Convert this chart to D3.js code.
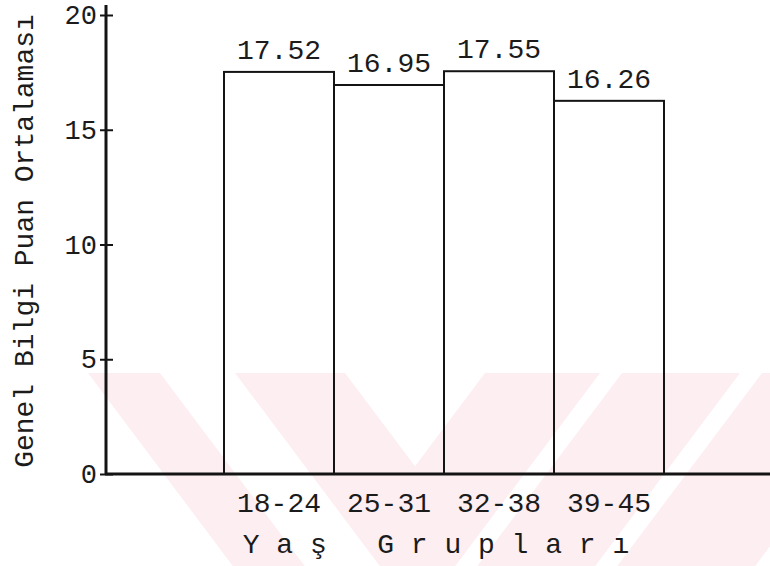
<!DOCTYPE html>
<html>
<head>
<meta charset="utf-8">
<script src="https://cdn.jsdelivr.net/npm/d3@7"></script>
<style>
  body { margin: 0; background: #fff; }
  text { font-family: "Liberation Mono", "Courier New", monospace; fill: #1b1b1b; }
</style>
</head>
<body>
<svg id="chart" width="770" height="566"></svg>
<script>
// Mean general-knowledge score per age group
const ageGroups = ["18-24", "25-31", "32-38", "39-45"];
const meanScores = [17.52, 16.95, 17.55, 16.26];
const yTicks = [0, 5, 10, 15, 20];
const yTitle = "Genel Bilgi Puan Ortalaması";
const xTitle = "Y a ş   G r u p l a r ı";

const W = 770, H = 566;
const svg = d3.select("#chart");

const y = d3.scaleLinear().domain([0, 20]).range([474, 15]);
const x = d3.scaleBand().domain(ageGroups).range([224, 664]).padding(0);

// ---- pale chevron watermark behind the chart ----
const wmTop = 373, slope = 0.75;
svg.append("clipPath").attr("id", "wm-clip")
  .append("rect").attr("x", 0).attr("y", wmTop).attr("width", W).attr("height", H - wmTop);
const wm = svg.append("g").attr("clip-path", "url(#wm-clip)");
const P = (x0, t) => [x0 + slope * t, wmTop + t];
const Q = (x0, t) => [x0 - slope * t, wmTop + t];
// a V shape from the top x-extents of its left and right arms
function chevron(l0, l1, r0, r1) {
  const tIn = (r0 - l1) / (2 * slope), tOut = (r1 - l0) / (2 * slope);
  return [[l0, wmTop], [l1, wmTop], P(l1, tIn), [r0, wmTop], [r1, wmTop], P(l0, tOut)];
}
const shapes = [
  chevron(88, 160, 622, 740),
  chevron(235, 345, 485, 600),
  [[762, wmTop], [900, wmTop], Q(900, 300), Q(762, 300)]
];
wm.selectAll("path").data(shapes).join("path")
  .attr("d", d => "M" + d.map(p => p.join(",")).join("L") + "Z")
  .attr("fill", "#fdeef1");

// ---- bars ----
svg.append("g").selectAll("rect").data(meanScores).join("rect")
  .attr("x", (d, i) => x(ageGroups[i]))
  .attr("y", d => y(d))
  .attr("width", x.bandwidth())
  .attr("height", d => y(0) - y(d))
  .attr("fill", "none")
  .attr("stroke", "#141414")
  .attr("stroke-width", 2);

// value labels
svg.append("g").selectAll("text").data(meanScores).join("text")
  .attr("x", (d, i) => x(ageGroups[i]) + x.bandwidth() / 2)
  .attr("y", d => y(d) - 13)
  .attr("text-anchor", "middle")
  .style("font-size", "28px")
  .text(d => d.toFixed(2));

// ---- y axis ----
const yAxis = svg.append("g").attr("transform", "translate(106,0)")
  .call(d3.axisLeft(y).tickValues(yTicks).tickSize(6).tickPadding(3).tickSizeOuter(0));
yAxis.select(".domain").remove();
yAxis.selectAll(".tick line").attr("x1", 7).attr("stroke", "#141414").attr("stroke-width", 2);
yAxis.selectAll(".tick text").style("font-size", "27px").attr("font-family", null);
yAxis.append("line")
  .attr("x1", 0).attr("x2", 0)
  .attr("y1", y(0)).attr("y2", y(20) - 10)
  .attr("stroke", "#141414").attr("stroke-width", 3);

// ---- x axis ----
const xAxis = svg.append("g").attr("transform", `translate(0,${y(0)})`)
  .call(d3.axisBottom(x).tickSize(0).tickPadding(18));
xAxis.select(".domain").remove();
xAxis.selectAll(".tick text").style("font-size", "28px").attr("font-family", null);
svg.append("line")
  .attr("x1", 105).attr("x2", W)
  .attr("y1", y(0)).attr("y2", y(0))
  .attr("stroke", "#141414").attr("stroke-width", 3);

// ---- axis titles ----
svg.append("text")
  .attr("x", 436).attr("y", 553)
  .attr("text-anchor", "middle")
  .style("font-size", "28px")
  .style("white-space", "pre")
  .text(xTitle);

svg.append("text")
  .attr("transform", "translate(33,241) rotate(-90)")
  .attr("text-anchor", "middle")
  .style("font-size", "28px")
  .text(yTitle);
</script>
</body>
</html>
